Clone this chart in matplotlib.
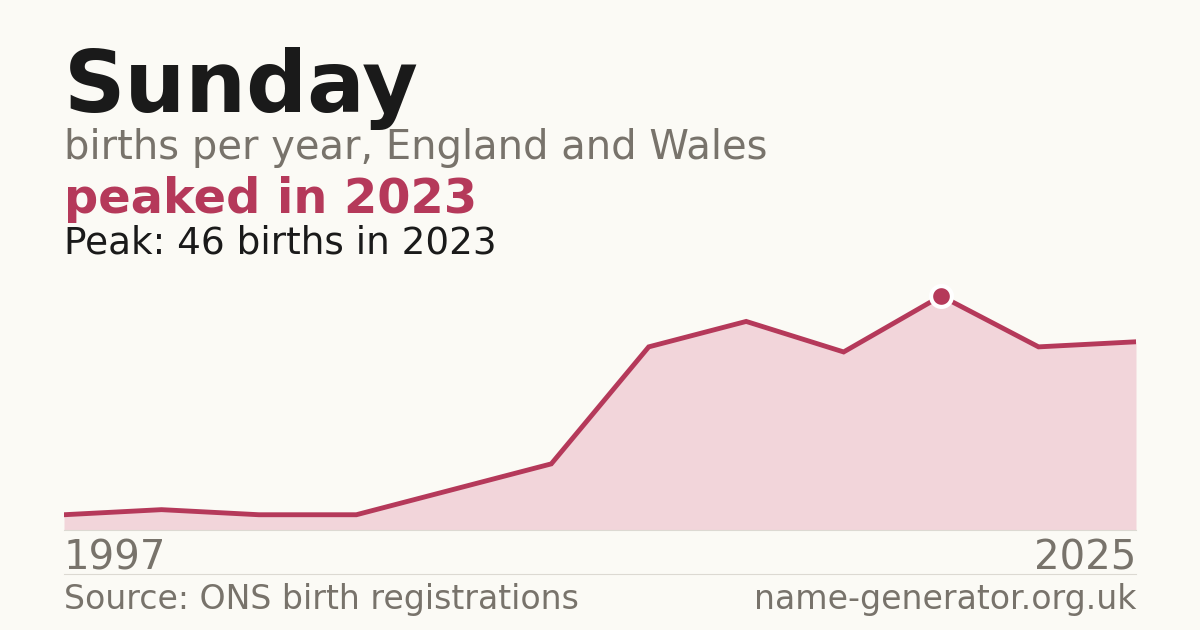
import numpy as np
import matplotlib
matplotlib.use("Agg")
import matplotlib.pyplot as plt

# data (points evenly spaced, plotted by index)
years = [1997, 1999, 2003, 2006, 2010, 2014, 2018, 2020, 2022, 2023, 2024, 2025]
births = [3, 4, 3, 3, 8, 13, 36, 41, 35, 46, 36, 37]
peak_year = 2023
peak_births = 46

name = "Sunday"
subtitle = "births per year, England and Wales"
headline = "peaked in 2023"
note = "Peak: 46 births in 2023"
source = "Source: ONS birth registrations"
site = "name-generator.org.uk"

BG = "#fbfaf5"
RED = "#b5395a"
FILL = "#f2d5da"
GREY = "#78736b"
DARK = "#1a1a1a"
RULE = "#dcd9d2"

W, H = 1200, 630
fig = plt.figure(figsize=(W / 100, H / 100), dpi=100, facecolor=BG)

def fy(py):
    return 1 - py / H

def fx(px):
    return px / W

# chart area
ax = fig.add_axes([fx(64), fy(530), fx(1136) - fx(64), fy(270) - fy(530)])
ax.set_facecolor(BG)
x = np.arange(len(years))
ax.fill_between(x, births, 0, color=FILL, lw=0)
ax.plot(x, births, color=RED, lw=3.5, solid_joinstyle="miter")
pi = years.index(peak_year)
ax.plot(x[pi], births[pi], "o", ms=15, mfc=RED, mec="white", mew=3, zorder=5)
ax.set_xlim(0, len(years) - 1)
ax.set_ylim(0, max(births) * 260 / 234)
ax.axis("off")

# titles
fig.text(fx(64), fy(112), name, fontsize=61.6, fontweight="bold", color=DARK, va="baseline")
fig.text(fx(64), fy(159), subtitle, fontsize=28.8, color=GREY, va="baseline")
fig.text(fx(64), fy(213), headline, fontsize=34.5, fontweight="bold", color=RED, va="baseline")
fig.text(fx(64), fy(253), note, fontsize=26.9, color=DARK, va="baseline")

# axis end labels
fig.text(fx(64), fy(570), str(years[0]), fontsize=29, color=GREY, va="baseline")
fig.text(fx(1136), fy(570), str(years[-1]), fontsize=29, color=GREY, va="baseline", ha="right")

# rules
fig.add_artist(plt.Line2D([fx(64), fx(1136)], [fy(530), fy(530)], color=RULE, lw=0.8))
fig.add_artist(plt.Line2D([fx(64), fx(1136)], [fy(574), fy(574)], color=RULE, lw=0.8))

# footer
fig.text(fx(64), fy(609), source, fontsize=23.9, color=GREY, va="baseline")
fig.text(fx(1136), fy(609), site, fontsize=23.9, color=GREY, va="baseline", ha="right")

fig.savefig("out.png", dpi=100, facecolor=BG)
